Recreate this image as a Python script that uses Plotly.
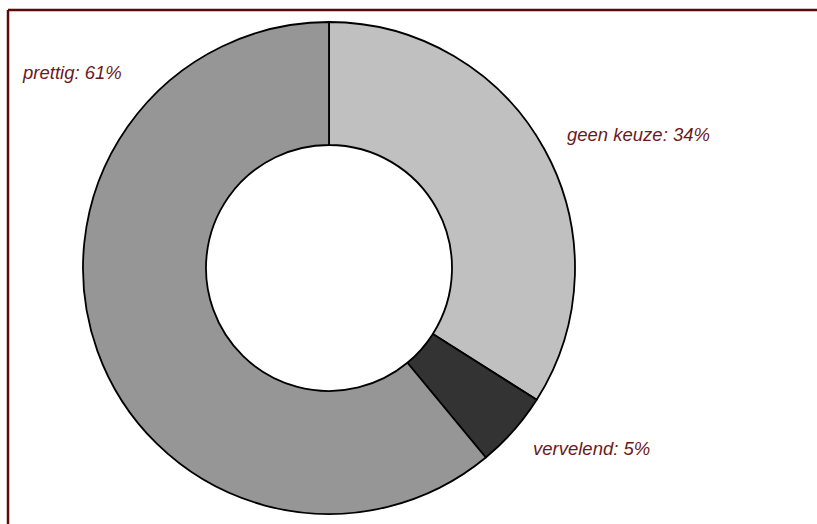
import plotly.graph_objects as go

# Answers and their shares (percent), clockwise from 12 o'clock
categories = ["geen keuze", "vervelend", "prettig"]
shares = [34, 5, 61]
slice_colors = ["#c0c0c0", "#333333", "#969696"]

# Label anchor points in pixels (left edge, vertical centre)
label_pos = [(565, 134), (531, 448), (20, 72)]

W, H = 817, 524
cx, cy, r = 329, 268, 246

fig = go.Figure(
    go.Pie(
        labels=categories,
        values=shares,
        hole=0.5,
        sort=False,
        direction="clockwise",
        rotation=0,
        marker=dict(colors=slice_colors, line=dict(color="#000000", width=1.8)),
        textinfo="none",
        hoverinfo="label+percent",
        showlegend=False,
        domain=dict(
            x=[(cx - r) / W, (cx + r) / W],
            y=[(H - cy - r) / H, (H - cy + r) / H],
        ),
    )
)

annotations = []
for name, val, (px, py) in zip(categories, shares, label_pos):
    annotations.append(
        dict(
            text=f"<i>{name}: {val}%</i>",
            x=px / W,
            y=1 - py / H,
            xref="paper",
            yref="paper",
            xanchor="left",
            yanchor="middle",
            showarrow=False,
            font=dict(family="Liberation Sans, Arial, sans-serif", size=18.5, color="#6b1a1a"),
        )
    )

# Frame lines along the top and left edges
shapes = [
    dict(type="line", xref="paper", yref="paper", x0=8 / W, y0=1 - 10 / H, x1=1, y1=1 - 10 / H,
         line=dict(color="#5c0a0a", width=2.5)),
    dict(type="line", xref="paper", yref="paper", x0=8 / W, y0=1 - 10 / H, x1=8 / W, y1=0,
         line=dict(color="#5c0a0a", width=2.5)),
]

fig.update_layout(
    width=W,
    height=H,
    margin=dict(l=0, r=0, t=0, b=0),
    paper_bgcolor="#ffffff",
    plot_bgcolor="#ffffff",
    annotations=annotations,
    shapes=shapes,
)

fig.write_html("out.html")
